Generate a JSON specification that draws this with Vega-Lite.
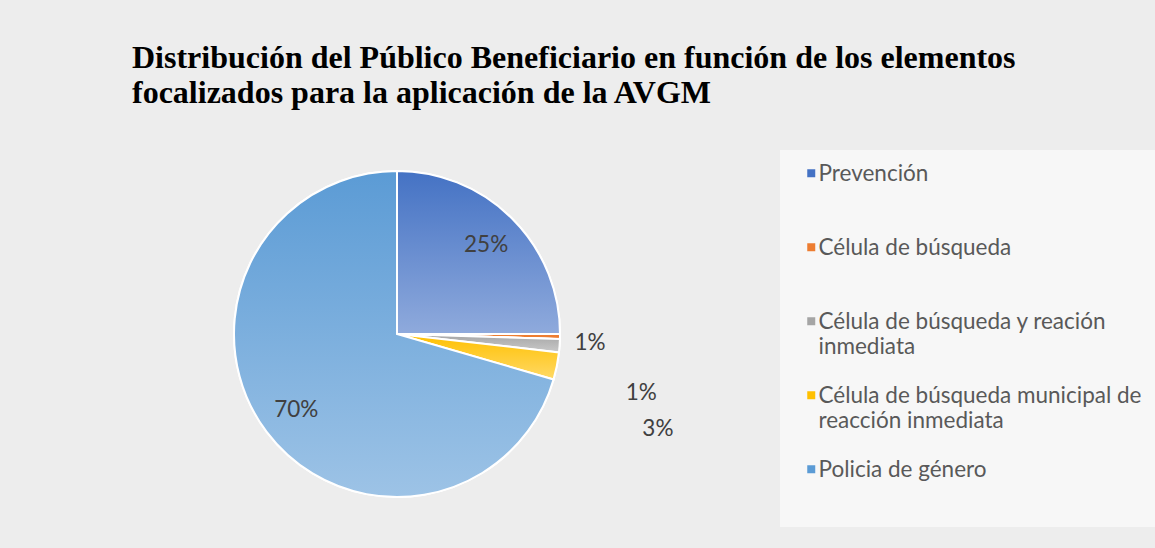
{
  "$schema": "https://vega.github.io/schema/vega-lite/v6.json",
  "width": 530,
  "height": 326,
  "autosize": "none",
  "padding": {"left": 132, "top": 171, "right": 493, "bottom": 51},
  "background": "#ededed",
  "title": {
    "text": ["Distribución del Público Beneficiario en función de los elementos", "focalizados para la aplicación de la AVGM"],
    "anchor": "start",
    "frame": "group",
    "font": "Liberation Serif",
    "fontSize": 32,
    "fontWeight": "bold",
    "color": "#000000",
    "lineHeight": 35,
    "baseline": "bottom",
    "offset": 8
  },
  "data": {
    "values": [
      {"idx": 1, "cat": "Prevención", "value": 25, "label": "25%"},
      {"idx": 2, "cat": "Célula de búsqueda", "value": 0.5, "label": "1%"},
      {"idx": 3, "cat": "Célula de búsqueda y reación inmediata", "value": 1.3, "label": "1%"},
      {"idx": 4, "cat": "Célula de búsqueda municipal de reacción inmediata", "value": 2.7, "label": "3%"},
      {"idx": 5, "cat": "Policia de género", "value": 70.5, "label": "70%"}
    ]
  },
  "layer": [
    {
      "mark": {"type": "arc", "stroke": "#ffffff", "strokeWidth": 2},
      "encoding": {
        "theta": {"field": "value", "type": "quantitative", "stack": true},
        "order": {"field": "idx", "type": "quantitative"},
        "color": {
          "field": "cat",
          "type": "nominal",
          "scale": {
            "domain": ["Prevención", "Célula de búsqueda", "Célula de búsqueda y reación inmediata", "Célula de búsqueda municipal de reacción inmediata", "Policia de género"],
            "range": ["#4472C4", "#ED7D31", "#A5A5A5", "#FFC000", "#5B9BD5"]
          },
          "legend": {
            "title": null,
            "orient": "none",
            "legendX": 648,
            "legendY": -21,
            "padding": 20,
            "fillColor": "#f7f7f7",
            "symbolType": "M-1,-3H1V-1H-1Z",
            "symbolSize": 64,
            "symbolStrokeWidth": 0,
            "labelFont": "Lato",
            "labelFontSize": 22.5,
            "labelColor": "#595959",
            "labelLimit": 400,
            "labelOffset": -4,
            "labelBaseline": "alphabetic",
            "labelLineHeight": 28,
            "rowPadding": 26,
            "labelExpr": "datum.label == 'Célula de búsqueda y reación inmediata' ? ['Célula de búsqueda y reación', 'inmediata'] : datum.label == 'Célula de búsqueda municipal de reacción inmediata' ? ['Célula de búsqueda municipal de', 'reacción inmediata'] : [datum.label, ' ']"
          }
        }
      }
    },
    {
      "mark": {"type": "arc", "stroke": "#ffffff", "strokeWidth": 2},
      "encoding": {
        "theta": {"field": "value", "type": "quantitative", "stack": true},
        "order": {"field": "idx", "type": "quantitative"},
        "detail": {"field": "cat", "type": "nominal"},
        "fill": {
          "condition": [
            {"test": "datum.cat === 'Prevención'", "value": {"gradient": "linear", "x1": 0, "y1": 0, "x2": 0, "y2": 1, "stops": [{"offset": 0, "color": "#4472C4"}, {"offset": 1, "color": "#8FAADC"}]}},
            {"test": "datum.cat === 'Célula de búsqueda y reación inmediata'", "value": {"gradient": "linear", "x1": 0, "y1": 0, "x2": 0, "y2": 1, "stops": [{"offset": 0, "color": "#A5A5A5"}, {"offset": 1, "color": "#C9C9C9"}]}},
            {"test": "datum.cat === 'Célula de búsqueda municipal de reacción inmediata'", "value": {"gradient": "linear", "x1": 0, "y1": 0, "x2": 0, "y2": 1, "stops": [{"offset": 0, "color": "#FFC000"}, {"offset": 1, "color": "#FFD966"}]}},
            {"test": "datum.cat === 'Policia de género'", "value": {"gradient": "linear", "x1": 0, "y1": 0, "x2": 0, "y2": 1, "stops": [{"offset": 0, "color": "#5B9BD5"}, {"offset": 1, "color": "#9DC3E6"}]}}
          ],
          "value": "transparent"
        }
      }
    },
    {
      "mark": {"type": "text", "radius": 126, "font": "Lato", "fontSize": 22.5, "color": "#404040"},
      "encoding": {
        "theta": {"field": "value", "type": "quantitative", "stack": true},
        "order": {"field": "idx", "type": "quantitative"},
        "detail": {"field": "cat", "type": "nominal"},
        "text": {"condition": {"test": "datum.cat === 'Prevención' || datum.cat === 'Policia de género'", "field": "label"}, "value": ""}
      }
    },
    {
      "mark": {"type": "text", "radius": 193, "dy": 6, "font": "Lato", "fontSize": 22.5, "color": "#404040"},
      "encoding": {
        "theta": {"field": "value", "type": "quantitative", "stack": true},
        "order": {"field": "idx", "type": "quantitative"},
        "detail": {"field": "cat", "type": "nominal"},
        "text": {"condition": {"test": "datum.cat === 'Célula de búsqueda'", "field": "label"}, "value": ""}
      }
    },
    {
      "mark": {"type": "text", "radius": 245, "dy": 41, "font": "Lato", "fontSize": 22.5, "color": "#404040"},
      "encoding": {
        "theta": {"field": "value", "type": "quantitative", "stack": true},
        "order": {"field": "idx", "type": "quantitative"},
        "detail": {"field": "cat", "type": "nominal"},
        "text": {"condition": {"test": "datum.cat === 'Célula de búsqueda y reación inmediata'", "field": "label"}, "value": ""}
      }
    },
    {
      "mark": {"type": "text", "radius": 262, "dx": 4, "dy": 43, "font": "Lato", "fontSize": 22.5, "color": "#404040"},
      "encoding": {
        "theta": {"field": "value", "type": "quantitative", "stack": true},
        "order": {"field": "idx", "type": "quantitative"},
        "detail": {"field": "cat", "type": "nominal"},
        "text": {"condition": {"test": "datum.cat === 'Célula de búsqueda municipal de reacción inmediata'", "field": "label"}, "value": ""}
      }
    }
  ],
  "config": {"view": {"stroke": null}}
}
